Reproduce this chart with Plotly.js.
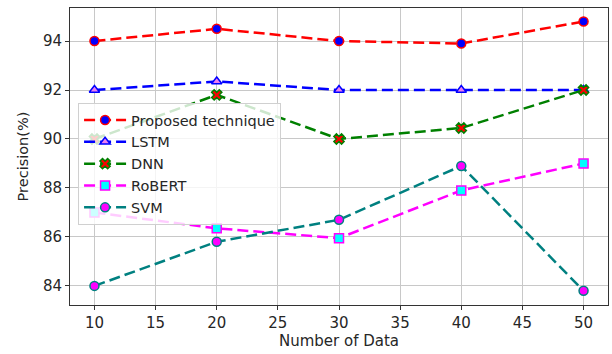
<!DOCTYPE html>
<html>
<head>
<meta charset="utf-8">
<script src="https://cdn.plot.ly/plotly-3.0.1.min.js"></script>
<style>
  html, body { margin: 0; padding: 0; background: #fff; }
  #chart { width: 612px; height: 354px; }
</style>
</head>
<body>
<div id="chart"></div>
<script>
// Dataset sizes on the x axis
const dataSizes = [10, 20, 30, 40, 50];

// Precision (%) of each method
const proposed = [94.0, 94.5, 94.0, 93.9, 94.8];
const lstm     = [92.0, 92.35, 92.0, 92.0, 92.0];
const dnn      = [90.0, 91.8, 90.0, 90.45, 92.0];
const robert   = [87.0, 86.35, 85.95, 87.9, 89.0];
const svm      = [84.0, 85.8, 86.7, 88.9, 83.8];

const seriesNames = ["Proposed technique", "LSTM", "DNN", "RoBERT", "SVM"];
const xTicks = [10, 15, 20, 25, 30, 35, 40, 45, 50];
const yTicks = [84, 86, 88, 90, 92, 94];

const font = "DejaVu Sans, sans-serif";

function series(name, values, lineColor, symbol, fill, edge) {
  return {
    x: dataSizes,
    y: values,
    name: name,
    type: "scatter",
    mode: "lines+markers",
    line: { color: lineColor, width: 2.5, dash: "11px,5px" },
    marker: { symbol: symbol, size: 9, color: fill, line: { color: edge, width: 1.5 } }
  };
}

const traces = [
  series(seriesNames[0], proposed, "#ff0000", "circle", "#0000ff", "#ff0000"),
  series(seriesNames[1], lstm, "#0000ff", "triangle-up", "#ee82ee", "#0000ff"),
  series(seriesNames[2], dnn, "#008000", "x", "#ff0000", "#008000"),
  series(seriesNames[3], robert, "#ff00ff", "square", "#00ffff", "#ff00ff"),
  series(seriesNames[4], svm, "#008080", "circle", "#ff00ff", "#008080")
];

const axisCommon = {
  showline: true,
  mirror: true,
  linecolor: "#333",
  linewidth: 1,
  showgrid: true,
  gridcolor: "#c8c8c8",
  gridwidth: 1,
  zeroline: false,
  ticks: "outside",
  ticklen: 4,
  tickcolor: "#333",
  tickfont: { family: font, size: 15, color: "#262626" }
};

const layout = {
  width: 612,
  height: 354,
  margin: { l: 70, r: 4, t: 8, b: 49 },
  paper_bgcolor: "#fff",
  plot_bgcolor: "#fff",
  font: { family: font, size: 15, color: "#262626" },
  xaxis: Object.assign({}, axisCommon, {
    range: [8, 52],
    tickvals: xTicks,
    ticktext: xTicks.map(String),
    title: { text: "Number of Data", font: { family: font, size: 15, color: "#262626" }, standoff: 4 }
  }),
  yaxis: Object.assign({}, axisCommon, {
    range: [83.22, 95.35],
    tickvals: yTicks,
    ticktext: yTicks.map(String),
    title: { text: "Precision(%)", font: { family: font, size: 14.5, color: "#262626" }, standoff: 10 }
  }),
  showlegend: true,
  legend: {
    x: 0.015,
    y: 0.68,
    xanchor: "left",
    yanchor: "top",
    bgcolor: "rgba(255,255,255,0.8)",
    bordercolor: "#d0d0d0",
    borderwidth: 1,
    font: { family: font, size: 14.5, color: "#262626" },
    tracegroupgap: 0,
    itemwidth: 42
  }
};

Plotly.newPlot("chart", traces, layout, { displayModeBar: false, staticPlot: true });
</script>
</body>
</html>
